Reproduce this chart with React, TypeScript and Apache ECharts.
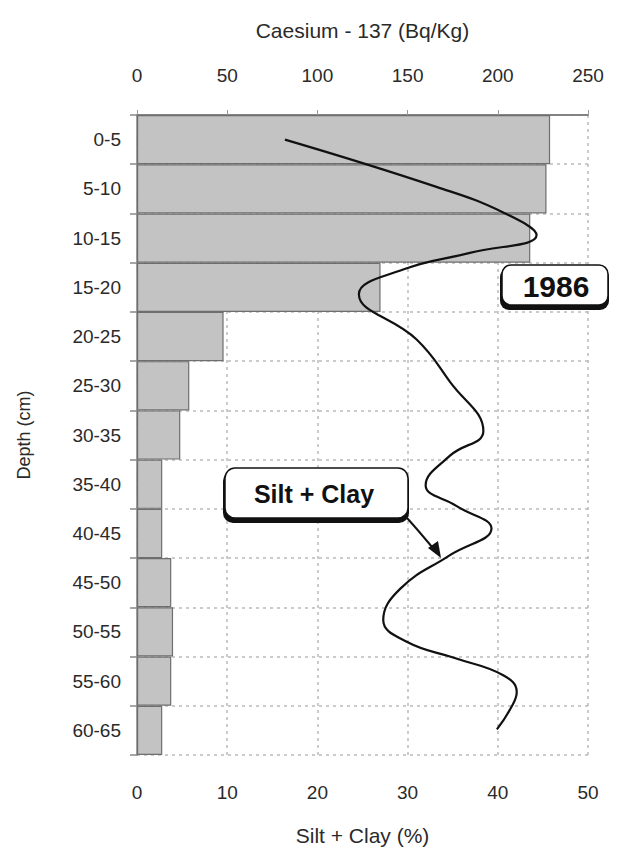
import React, { useEffect, useRef } from "react";
import * as echarts from "echarts";

const depthLabels = ["0-5", "5-10", "10-15", "15-20", "20-25", "25-30", "30-35", "35-40", "40-45", "45-50", "50-55", "55-60", "60-65"];
const caesium = [229, 227, 218, 135, 48, 29, 24, 14, 14, 19, 20, 19, 14];

const siltDepth = [2.5, 7.3, 9.9, 12.2, 14.0, 15.7, 18.2, 22.8, 27.1, 32.1, 34.6, 37.6, 39.7, 42.0, 44.7, 48.1, 51.3, 53.5, 55.2, 56.9, 58.6, 60.3, 62.4];
const siltPct = [16.4, 33.2, 40.6, 44.3, 36.9, 29.5, 24.6, 31.0, 34.7, 38.4, 34.7, 32.0, 35.4, 39.3, 34.7, 29.2, 27.3, 29.9, 35.4, 40.6, 42.1, 41.4, 39.9];

const siltTicks = [0, 10, 20, 30, 40, 50];
const caesiumTicks = [0, 50, 100, 150, 200, 250];

const FONT = "Liberation Sans";

export default function App() {
  const ref = useRef<HTMLDivElement>(null);
  useEffect(() => {
    if (!ref.current) return;
    const chart = echarts.init(ref.current, null, { renderer: "svg" });
    const linePts = siltDepth.map((d, i) => [siltPct[i], d]);
    chart.setOption({
      animation: false,
      backgroundColor: "#ffffff",
      textStyle: { fontFamily: FONT },
      grid: { left: 137, right: 30, top: 115, bottom: 94, containLabel: false },
      xAxis: [
        {
          type: "value",
          position: "bottom",
          min: siltTicks[0],
          max: siltTicks[siltTicks.length - 1],
          interval: 10,
          name: "Silt + Clay (%)",
          nameLocation: "middle",
          nameGap: 70,
          nameTextStyle: { fontSize: 21, color: "#2a2a2a", fontFamily: FONT },
          axisLine: { show: true, lineStyle: { color: "#999", width: 1.5 } },
          axisTick: { show: true, inside: true, length: 5, lineStyle: { color: "#888" } },
          axisLabel: { fontSize: 19, color: "#2a2a2a", margin: 28, fontFamily: FONT },
          splitLine: { show: true, lineStyle: { color: "#bbb", type: [3, 4], width: 1.5 } },
        },
        {
          type: "value",
          position: "top",
          min: caesiumTicks[0],
          max: caesiumTicks[caesiumTicks.length - 1],
          interval: 50,
          name: "Caesium - 137 (Bq/Kg)",
          nameLocation: "middle",
          nameGap: 74,
          nameTextStyle: { fontSize: 21, color: "#2a2a2a", fontFamily: FONT },
          axisLine: { show: true, lineStyle: { color: "#777", width: 1.5 } },
          axisTick: { show: true, length: 5, lineStyle: { color: "#999" } },
          axisLabel: { fontSize: 19, color: "#2a2a2a", margin: 30, fontFamily: FONT },
          splitLine: { show: false },
        },
      ],
      yAxis: [
        {
          type: "category",
          data: depthLabels,
          inverse: true,
          position: "left",
          name: "Depth (cm)",
          nameLocation: "middle",
          nameGap: 104,
          nameRotate: 90,
          nameTextStyle: { fontSize: 18, color: "#2a2a2a", fontFamily: FONT },
          axisLine: { show: true, lineStyle: { color: "#999", width: 1.5 } },
          axisTick: { show: true, length: 7, lineStyle: { color: "#888", width: 1.5 } },
          axisLabel: { fontSize: 19, color: "#2a2a2a", margin: 16, fontFamily: FONT },
          splitLine: { show: true, lineStyle: { color: "#bbb", type: [3, 4], width: 1.5 } },
        },
        {
          type: "value",
          min: 0,
          max: 65,
          inverse: true,
          position: "right",
          axisLine: { show: true, lineStyle: { color: "#999", width: 1.5 } },
          axisTick: { show: false },
          axisLabel: { show: false },
          splitLine: { show: false },
        },
      ],
      series: [
        {
          type: "bar",
          name: "Caesium - 137",
          xAxisIndex: 1,
          yAxisIndex: 0,
          data: caesium,
          barCategoryGap: "0%",
          itemStyle: { color: "#c3c3c3", borderColor: "#6e6e6e", borderWidth: 1.2 },
          z: 2,
        },
        {
          type: "line",
          name: "Silt + Clay",
          xAxisIndex: 0,
          yAxisIndex: 1,
          data: linePts,
          smooth: 0.45,
          showSymbol: false,
          symbol: "none",
          lineStyle: { color: "#111", width: 2.2 },
          z: 3,
        },
      ],
      graphic: [
        { type: "rect", shape: { x: 500, y: 268, width: 109, height: 42, r: 9 }, style: { fill: "#111" }, z: 10 },
        { type: "rect", shape: { x: 502, y: 265, width: 106, height: 40, r: 9 }, style: { fill: "#fff", stroke: "#111", lineWidth: 1.5 }, z: 11 },
        { type: "text", x: 556, y: 286, style: { text: "1986", fontSize: 30, fontWeight: "bold", fontFamily: FONT, fill: "#111", align: "center", verticalAlign: "middle" }, z: 12 },
        { type: "rect", shape: { x: 223, y: 471, width: 186, height: 52, r: 10 }, style: { fill: "#111" }, z: 10 },
        { type: "rect", shape: { x: 225, y: 468, width: 183, height: 50, r: 10 }, style: { fill: "#fff", stroke: "#111", lineWidth: 1.5 }, z: 11 },
        { type: "text", x: 314, y: 494, style: { text: "Silt + Clay", fontSize: 25, fontWeight: "bold", fontFamily: FONT, fill: "#111", align: "center", verticalAlign: "middle" }, z: 12 },
        { type: "bezierCurve", shape: { x1: 407, y1: 518, x2: 437, y2: 553, cpx1: 418, cpy1: 530 }, style: { stroke: "#111", lineWidth: 2, fill: null }, z: 12 },
        { type: "polygon", shape: { points: [[441, 558], [428, 548], [438, 541]] }, style: { fill: "#111" }, z: 12 },
      ],
    });
    return () => chart.dispose();
  }, []);
  return <div ref={ref} style={{ width: 618, height: 851, position: "absolute", left: 0, top: 0 }} />;
}
